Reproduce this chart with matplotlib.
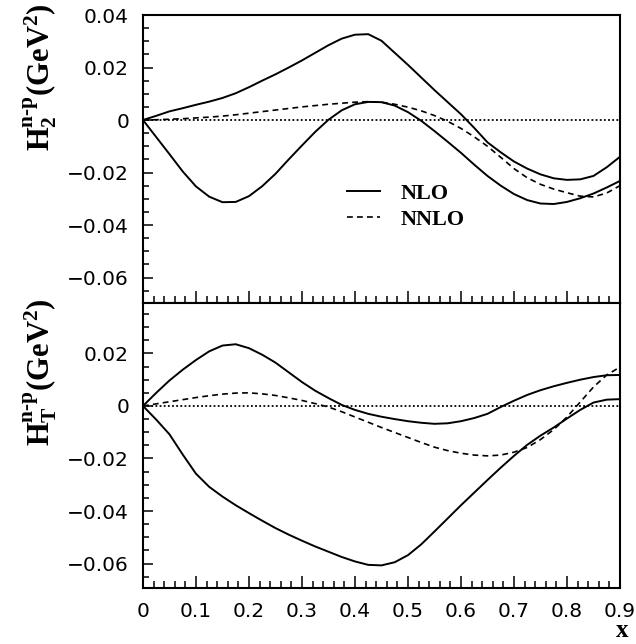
# Two-panel plot: H2 and HT (n-p) at NLO / NNLO
import matplotlib
matplotlib.use("Agg")
import matplotlib.pyplot as plt
from matplotlib.ticker import MultipleLocator, FuncFormatter

# x grid (step 0.025)
x = [0, 0.025, 0.05, 0.075, 0.10, 0.125, 0.15, 0.175, 0.20, 0.225,
     0.25, 0.275, 0.30, 0.325, 0.35, 0.375, 0.40, 0.425, 0.45, 0.475,
     0.50, 0.525, 0.55, 0.575, 0.60, 0.625, 0.65, 0.675, 0.70, 0.725,
     0.75, 0.775, 0.80, 0.825, 0.85, 0.875, 0.90]

# top panel: H2 (GeV^2)
h2_nlo_upper = [0, 0.0016, 0.0033, 0.0045, 0.0058, 0.0070, 0.0084, 0.0102, 0.0125, 0.0150,
                0.0174, 0.0200, 0.0227, 0.0256, 0.0285, 0.0310, 0.0325, 0.0327, 0.0302, 0.0256,
                0.0210, 0.0162, 0.0114, 0.0068, 0.0022, -0.0030, -0.0085, -0.0123, -0.0158, -0.0185,
                -0.0207, -0.0222, -0.0228, -0.0226, -0.0213, -0.0180, -0.0140]
h2_nlo_lower = [0, -0.0065, -0.0130, -0.0196, -0.0253, -0.0292, -0.0313, -0.0312, -0.0290, -0.0252,
                -0.0205, -0.0150, -0.0097, -0.0045, 0.0001, 0.0037, 0.0060, 0.0069, 0.0068, 0.0055,
                0.0030, -0.0003, -0.0042, -0.0083, -0.0125, -0.0170, -0.0213, -0.0250, -0.0282, -0.0305,
                -0.0318, -0.0320, -0.0312, -0.0298, -0.0280, -0.0257, -0.0232]
h2_nnlo = [0, 0.0001, 0.0003, 0.0005, 0.0008, 0.0011, 0.0015, 0.0020, 0.0026, 0.0032,
           0.0038, 0.0044, 0.0050, 0.0055, 0.0060, 0.0064, 0.0068, 0.0070, 0.0068, 0.0060,
           0.0049, 0.0035, 0.0017, -0.0005, -0.0032, -0.0064, -0.0100, -0.0142, -0.0185, -0.0220,
           -0.0245, -0.0263, -0.0277, -0.0290, -0.0293, -0.0278, -0.0250]

# bottom panel: HT (GeV^2)
ht_nlo_upper = [0, 0.0050, 0.0097, 0.0138, 0.0175, 0.0208, 0.0230, 0.0235, 0.0220, 0.0195,
                0.0165, 0.0128, 0.0091, 0.0058, 0.0030, 0.0004, -0.0015, -0.0030, -0.0041, -0.0050,
                -0.0058, -0.0064, -0.0068, -0.0066, -0.0058, -0.0046, -0.0030, -0.0004, 0.0020, 0.0042,
                0.0060, 0.0075, 0.0088, 0.0100, 0.0110, 0.0117, 0.0118]
ht_nlo_lower = [0, -0.0052, -0.0108, -0.0185, -0.0258, -0.0308, -0.0345, -0.0378, -0.0408, -0.0437,
                -0.0465, -0.0490, -0.0513, -0.0535, -0.0555, -0.0575, -0.0592, -0.0605, -0.0607, -0.0595,
                -0.0568, -0.0527, -0.0478, -0.0428, -0.0378, -0.0330, -0.0282, -0.0235, -0.0190, -0.0148,
                -0.0113, -0.0082, -0.0048, -0.0015, 0.0013, 0.0024, 0.0026]
ht_nnlo = [0, 0.0008, 0.0016, 0.0024, 0.0032, 0.0039, 0.0045, 0.0049, 0.0050, 0.0046,
           0.0040, 0.0031, 0.0021, 0.0009, -0.0004, -0.0022, -0.0042, -0.0062, -0.0082, -0.0101,
           -0.0120, -0.0139, -0.0157, -0.0170, -0.0180, -0.0187, -0.0190, -0.0187, -0.0176, -0.0158,
           -0.0128, -0.0090, -0.0042, 0.0015, 0.0072, 0.0118, 0.0148]

x_ticks = [0, 0.1, 0.2, 0.3, 0.4, 0.5, 0.6, 0.7, 0.8, 0.9]

plt.rcParams['font.family'] = 'DejaVu Sans'
plt.rcParams['mathtext.fontset'] = 'custom'
plt.rcParams['mathtext.rm'] = 'Liberation Serif:bold'
plt.rcParams['mathtext.bf'] = 'Liberation Serif:bold'
plt.rcParams['mathtext.it'] = 'Liberation Serif:bold'

fig = plt.figure(figsize=(6.36, 6.44), dpi=100)
ax1 = fig.add_axes([0.2248, 0.5295, 0.7500, 0.4472])
ax2 = fig.add_axes([0.2248, 0.0870, 0.7500, 0.4425], sharex=ax1)


def fmt(v, pos):
    if abs(v) < 1e-9:
        return '0'
    return ('%.2f' % v).replace('-', '\u2212')


def xfmt(v, pos):
    if abs(v) < 1e-9:
        return '0'
    return '%.1f' % v


for ax in (ax1, ax2):
    ax.axhline(0, color='black', lw=1.3, ls=(0, (1, 1.3)))
    for sp in ax.spines.values():
        sp.set_linewidth(1.5)
    ax.set_xlim(0, 0.9)
    ax.xaxis.set_major_locator(MultipleLocator(0.1))
    ax.xaxis.set_minor_locator(MultipleLocator(0.02))
    ax.yaxis.set_major_locator(MultipleLocator(0.02))
    ax.yaxis.set_minor_locator(MultipleLocator(0.005))
    ax.yaxis.set_major_formatter(FuncFormatter(fmt))
    ax.tick_params(axis='both', which='both', direction='in', top=False, right=False,
                   width=1.1, labelsize=14.5)
    ax.tick_params(axis='x', which='major', length=8.5, pad=10)
    ax.tick_params(axis='x', which='minor', length=5)
    ax.tick_params(axis='y', which='major', length=7, pad=10)
    ax.tick_params(axis='y', which='minor', length=4)

ax1.plot(x, h2_nlo_upper, color='black', lw=1.4, label='NLO')
ax1.plot(x, h2_nlo_lower, color='black', lw=1.4)
ax1.plot(x, h2_nnlo, color='black', lw=1.2, ls=(0, (3.5, 2.5)), label='NNLO')
ax1.set_ylim(-0.0697, 0.04)
ax1.tick_params(axis='x', labelbottom=False)

ax2.plot(x, ht_nlo_upper, color='black', lw=1.4)
ax2.plot(x, ht_nlo_lower, color='black', lw=1.4)
ax2.plot(x, ht_nnlo, color='black', lw=1.2, ls=(0, (3.5, 2.5)))
ax2.set_ylim(-0.0693, 0.0392)
ax2.set_xticks(x_ticks)
ax2.xaxis.set_major_formatter(FuncFormatter(xfmt))

leg = ax1.legend(loc='center left', bbox_to_anchor=(0.428, 0.335), frameon=False,
                 prop={'family': 'Liberation Serif', 'weight': 'bold', 'size': 16},
                 handlelength=1.5, handletextpad=0.9, labelspacing=0.25,
                 borderpad=0, borderaxespad=0)

fig.text(0.063, 0.995, r'$\mathbf{H}_{\mathbf{2}}^{\mathbf{n\text{-}p}}\mathbf{(GeV^{2})}$',
         rotation=90, ha='center', va='top', fontsize=22)
fig.text(0.063, 0.537, r'$\mathbf{H}_{\mathbf{T}}^{\mathbf{n\text{-}p}}\mathbf{(GeV^{2})}$',
         rotation=90, ha='center', va='top', fontsize=22)
fig.text(0.978, 0.003, 'x', ha='center', va='bottom', fontsize=18,
         family='Liberation Serif', weight='bold')

fig.savefig('out.png', dpi=100)
